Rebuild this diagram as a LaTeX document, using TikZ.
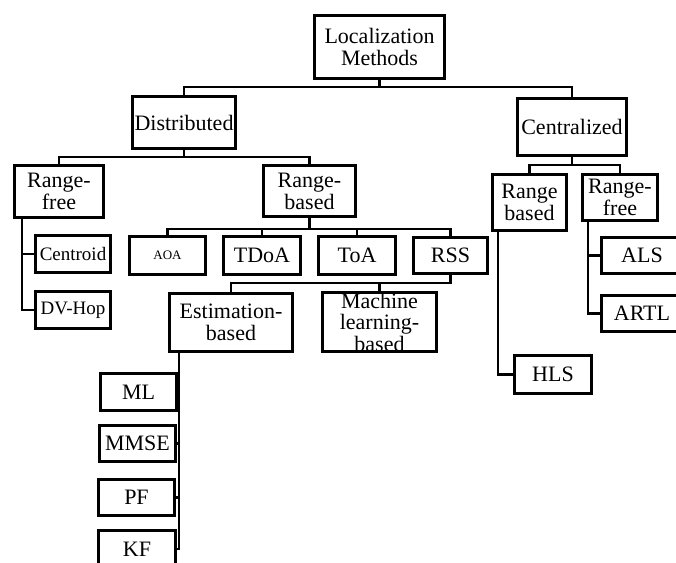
\documentclass[tikz,border=0pt]{standalone}
\usepackage{fontspec}
\setmainfont{Liberation Serif}
\usetikzlibrary{positioning}

\begin{document}
\begin{tikzpicture}[x=1pt, y=-1pt,
	box/.style={rectangle, text centered, align=center, draw=black, line width=2.8pt, inner sep=1pt, font=\fontsize{22}{22}\selectfont},
	smallbox/.style={box, font=\fontsize{19}{22}\selectfont},
	tinybox/.style={box, font=\fontsize{13}{15}\selectfont},
	link/.style={line width=2.6pt}]
	\useasboundingbox (0,0) rectangle (676,562);
	\clip (0,0) rectangle (676,562);
	% top levels
	\node[box, minimum width=130pt, minimum height=63pt] (root) at (379.5,47) {Localization\\Methods};
	\node[box, minimum width=103pt, minimum height=52pt] (dist) at (184,122.5) {Distributed};
	\node[box, minimum width=109pt, minimum height=57pt] (cent) at (572,127) {Centralized};
	% distributed branch
	\node[box, minimum width=89pt, minimum height=52pt] (rfree) at (59,191.5) {Range-\\free};
	\node[box, minimum width=92pt, minimum height=51pt] (rbased) at (309.5,191) {Range-\\based};
	\node[smallbox, minimum width=75pt, minimum height=37pt] (centroid) at (73,254) {Centroid};
	\node[smallbox, minimum width=75pt, minimum height=37pt] (dvhop) at (73,310) {DV-Hop};
	\node[tinybox, minimum width=76pt, minimum height=38pt] (aoa) at (167.5,255.5) {AOA};
	\node[box, minimum width=77pt, minimum height=38pt] (tdoa) at (262,255.5) {TDoA};
	\node[box, minimum width=77pt, minimum height=38pt] (toa) at (357,255.5) {ToA};
	\node[box, minimum width=74pt, minimum height=36pt] (rss) at (450.5,255.5) {RSS};
	\node[box, minimum width=123pt, minimum height=58pt] (estb) at (231,322.5) {Estimation-\\based};
	\node[box, minimum width=114pt, minimum height=59pt] (mlb) at (379.5,322) {};
	\node[align=center, inner sep=0pt, font=\fontsize{22}{21.5}\selectfont] (mlbtext) at (mlb) {Machine\\learning-\\based};
	\node[box, minimum width=76pt, minimum height=37pt] (ml) at (138.5,392) {ML};
	\node[box, minimum width=76pt, minimum height=36pt] (mmse) at (137.5,443.5) {MMSE};
	\node[box, minimum width=76pt, minimum height=36pt] (pf) at (136.5,497.5) {PF};
	\node[box, minimum width=77pt, minimum height=37pt] (kf) at (137,549) {KF};
	% centralized branch
	\node[box, minimum width=74pt, minimum height=56pt] (crb) at (529.5,202.5) {Range\\based};
	\node[box, minimum width=75pt, minimum height=46pt] (crf) at (620,197.5) {Range-\\free};
	\node[box, minimum width=77pt, minimum height=38pt] (hls) at (553,374.5) {HLS};
	\node[box, minimum width=81pt, minimum height=36pt] (als) at (642,255.5) {ALS};
	\node[box, minimum width=81pt, minimum height=36pt] (artl) at (642,313.5) {ARTL};
	% connectors
	\foreach \n in {dist, cent} \draw[link] (root.south) -- ++(0,7) -| (\n.north);
	\foreach \n in {rfree, rbased} \draw[link] (dist.south) -- ++(0,7) -| (\n.north);
	\foreach \n in {centroid, dvhop} \draw[link] ([xshift=9pt]rfree.south west) |- (\n.west);
	\foreach \n in {aoa, tdoa, toa, rss} \draw[link] (rbased.south) -- ++(0,11) -| (\n.north);
	\foreach \n in {estb, mlb} \draw[link] (rss.south) -- ++(0,8) -| (\n.north);
	\foreach \n in {ml, mmse, pf, kf} \draw[link] ([xshift=11pt]estb.south west) |- (\n.east);
	\foreach \n in {crb, crf} \draw[link] (cent.south) -- ++(0,8) -| (\n.north);
	\draw[link] ([xshift=7pt]crb.south west) |- (hls.west);
	\foreach \n in {als, artl} \draw[link] ([xshift=7pt]crf.south west) |- (\n.west);
\end{tikzpicture}
\end{document}
